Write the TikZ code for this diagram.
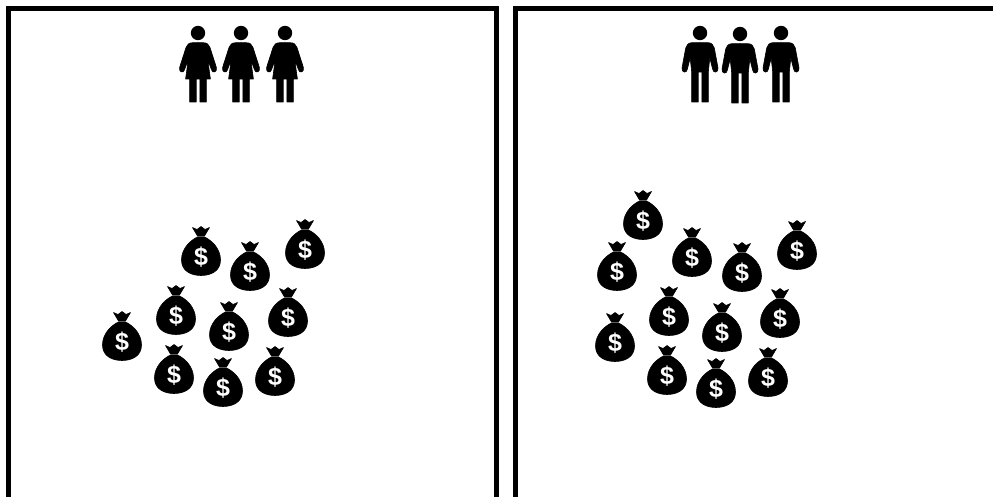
\documentclass[tikz,border=0pt]{standalone}
\usepackage{fontspec}
\setmainfont{Liberation Sans}
\tikzset{frame/.style={draw=black, line width=5pt, miter limit=10},
  sil/.style={fill=black, draw=black, line width=.6pt, line join=round},
  woman/.pic={
    \fill[black] (0,0) circle (7.2);
    \foreach \s in {1,-1}{
      \begin{scope}[xscale=\s]
        \path[sil] (0,9.7) -- (5,9.7) .. controls (9,9.7) and (11,11.5) .. (12,14.5)
          -- (18.4,34.5) .. controls (19.4,39) and (14.6,41) .. (13.6,37) -- (9.8,27)
          -- (12.4,46) -- (8.3,46) -- (8.3,69) -- (1.8,69) -- (1.8,46) -- (0,46) -- cycle;
      \end{scope}}
  },
  man/.pic={
    \fill[black] (0,0) circle (7.2);
    \foreach \s in {1,-1}{
      \begin{scope}[xscale=\s]
        \path[sil] (0,9.7) -- (8,9.7) .. controls (11.5,9.7) and (13.5,12) .. (14.3,15)
          -- (18,35) .. controls (18.6,40) and (13,40.5) .. (12.6,36) -- (9.8,25)
          -- (8.3,39) -- (8.3,69) -- (1.8,69) -- (1.8,39) -- (0,39) -- cycle;
      \end{scope}}
  },
  moneybag/.pic={
    \path[sil] (-3.5,-20) .. controls (-10,-17) and (-19.5,-9) .. (-19.5,3)
      .. controls (-19.5,14) and (-10,18.5) .. (0,18.5)
      .. controls (10,18.5) and (19.5,14) .. (19.5,3)
      .. controls (19.5,-9) and (10,-17) .. (3.5,-20) -- cycle;
    \path[sil] (-3.5,-21) -- (-8.5,-29.5) -- (-4,-27.5) -- (0,-30.5)
      -- (4,-27.5) -- (8.5,-29.5) -- (3.5,-21) -- cycle;
    \node[text=white, font=\fontsize{25}{25}\selectfont\bfseries, inner sep=0pt] (-sign) at (0,0) {\$};
  }}

\begin{document}
\begin{tikzpicture}[x=1pt,y=-1pt]
  \useasboundingbox (0,0) rectangle (993,497);
  \draw[frame] (8.5,497) -- (8.5,8.5) -- (496.5,8.5) -- (496.5,497);
  \draw[frame] (515,497) -- (515,8.5) -- (993,8.5);
  % people
  \foreach \i/\x/\y in {1/198/33,2/241/33,3/285/33}{
    \pic (woman\i) at (\x,\y) {woman};}
  \foreach \i/\x/\y in {1/700/33,2/740/34,3/781/33}{
    \pic (man\i) at (\x,\y) {man};}
  % left bags
  \foreach \i/\x/\y in {1/201/257,2/250/272,3/305/250,4/176/316,5/229/332,6/288/318,7/122/342,8/174/375,9/223/388,10/275/377}{
    \pic (lbag\i) at (\x,\y) {moneybag};}
  % right bags
  \foreach \i/\x/\y in {1/643/221,2/617/272,3/692/258,4/742/273,5/797/251,6/669/317,7/722/333,8/780/319,9/615/343,10/667/376,11/716/389,12/768/378}{
    \pic (rbag\i) at (\x,\y) {moneybag};}
\end{tikzpicture}
\end{document}
